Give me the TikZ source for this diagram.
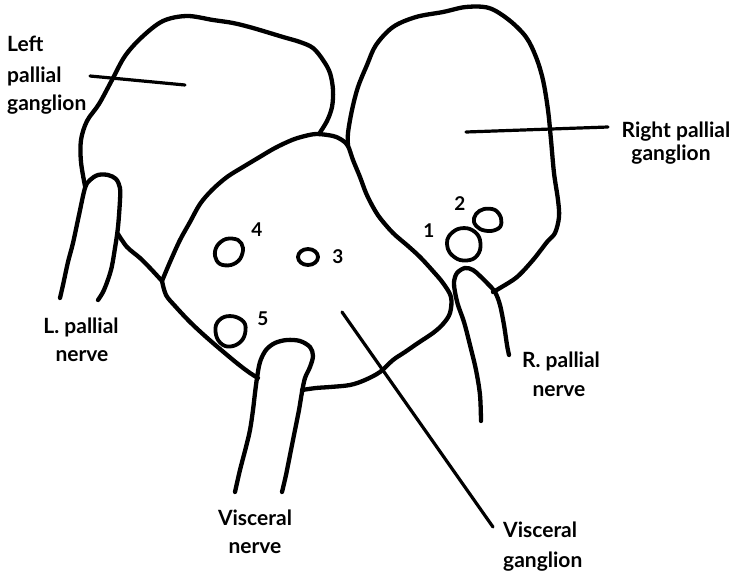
\documentclass[tikz,border=0pt]{standalone}
\usepackage{fontspec}
\setmainfont{Lato}
\begin{document}
\begin{tikzpicture}[x=1pt,y=-1pt,
  outline/.style={line width=4.3pt,line cap=round,line join=round},
  leader/.style={line width=3.2pt,line cap=round},
  spot/.style={line width=3.8pt,line join=round},
  lbl/.style={inner sep=0pt,font=\fontsize{21}{24}\selectfont\bfseries},
  num/.style={inner sep=0pt,font=\fontsize{19}{22}\selectfont\bfseries}]
\useasboundingbox (0,0) rectangle (732,571);

% left pallial ganglion
\draw[outline] plot[smooth,tension=0.55] coordinates {
  (85,186) (81,162) (81,140) (87,121) (99,104) (112,80) (125,56) (142,37)
  (163,21) (187,16) (213,20) (233,23) (253,28) (283,37) (300,42) (313,48)
  (323,60) (330,73) (333,90) (332,107) (327,121) (319,134)};
\draw[outline] plot[smooth,tension=0.55] coordinates {
  (118,234) (127,247) (140,258) (150,268) (162,281)};

% visceral ganglion
\draw[outline] plot[smooth,tension=0.55] coordinates {
  (162,281) (170,262) (180,240) (190,222) (200,204) (212,190) (227,177)
  (243,167) (258,158) (275,148) (292,140) (305,136) (317,134) (333,136)
  (342,140) (348,146) (353,160) (360,177) (366,193) (373,207) (380,218)
  (393,233) (408,246) (420,257) (432,270) (443,283) (451,297) (450,313)
  (443,324) (433,333) (418,343) (405,352) (393,360) (380,372) (365,380)
  (350,385) (330,387) (316,388) (302,390)};
\draw[outline] plot[smooth,tension=0.55] coordinates {
  (162,281) (166,295) (175,306) (190,322) (205,336) (220,349) (238,364)
  (250,373) (258,378)};

% right pallial ganglion
\draw[outline] plot[smooth,tension=0.55] coordinates {
  (348,146) (348,133) (352,110) (358,87) (367,65) (376,45) (393,27)
  (416,17) (443,12) (466,7) (489,8) (509,20) (526,37) (536,57) (543,80)
  (548,110) (551,140) (554,173) (558,200) (559,217) (555,233) (547,242)
  (533,260) (517,277) (500,288) (493,292)};

% nerves
\draw[outline] plot[smooth,tension=0.55] coordinates {
  (60,298) (63,285) (68,262) (73,243) (79,215) (85,188) (90,180) (98,175)
  (108,175) (116,179) (120,188) (120,200) (118,227) (115,248) (111,270)
  (104,290) (98,300)};
\draw[outline] plot[smooth,tension=0.55] coordinates {
  (235,492) (240,470) (246,447) (250,430) (253,410) (255,393) (257,378)
  (260,362) (266,350) (275,343) (287,340) (300,341) (310,347) (313,356)
  (310,367) (305,378) (302,392) (299,410) (295,430) (290,455) (286,475)
  (282,492)};
\draw[outline] plot[smooth,tension=0.55] coordinates {
  (481,421) (480,395) (476,370) (470,345) (464,322) (458,305) (455,292)
  (454,282) (457,273) (465,268) (473,270) (480,276) (488,284) (495,292)
  (500,305) (504,325) (507,345) (509,355)};

% numbered spots
\draw[spot] plot[smooth cycle,tension=0.6] coordinates {
  (217,246) (226,239) (238,240) (243,248) (240,259) (231,265) (220,264) (215,256)};
\draw[spot] (308,257) ellipse [x radius=10, y radius=8];
\draw[spot] plot[smooth cycle,tension=0.6] coordinates {
  (216,325) (224,317) (236,317) (245,324) (244,337) (236,345) (225,346) (217,338)};
\draw[spot] plot[smooth cycle,tension=0.6] coordinates {
  (449,236) (458,229) (470,229) (479,237) (480,250) (473,259) (460,260) (450,253) (447,244)};
\draw[spot] plot[smooth cycle,tension=0.6] coordinates {
  (476,214) (484,209) (495,210) (501,218) (500,227) (491,231) (480,229) (474,222)};

\node[num] (n4) at (257,230) {4};
\node[num] (n3) at (338,257) {3};
\node[num] (n5) at (263,319) {5};
\node[num] (n1) at (429,231) {1};
\node[num] (n2) at (460,204) {2};

% labels
\node[lbl,anchor=base west] (lpgA) at (7,51) {Left};
\node[lbl,anchor=base west] (lpgB) at (7,82) {pallial};
\node[lbl,anchor=base west] (lpgC) at (7,110) {ganglion};

\node[lbl,anchor=base] (rpgA) at (676,137) {Right pallial};
\node[lbl,anchor=base] (rpgB) at (671,160) {ganglion};

\node[lbl,anchor=base] (lpnA) at (81,333) {L. pallial};
\node[lbl,anchor=base] (lpnB) at (82,361) {nerve};

\node[lbl,anchor=base] (vnA) at (255,525) {Visceral};
\node[lbl,anchor=base] (vnB) at (255,553) {nerve};

\node[lbl,anchor=base] (rpnA) at (561,367) {R. pallial};
\node[lbl,anchor=base] (rpnB) at (559,396) {nerve};

\node[lbl,anchor=base west] (vgA) at (503,537) {Visceral};
\node[lbl,anchor=base west] (vgB) at (503,567) {ganglion};

% leader lines
\coordinate (lpgIn) at (185,85);
\coordinate (lpgOut) at (90,76);
\coordinate (rpgIn) at (466,132);
\coordinate (rpgOut) at (608,127);
\coordinate (vgIn) at (342,312);
\coordinate (vgOut) at (493,527);
\draw[leader] (lpgOut) -- (lpgIn);
\draw[leader] (rpgIn) -- (rpgOut);
\draw[leader] (vgIn) -- (vgOut);
\end{tikzpicture}
\end{document}
